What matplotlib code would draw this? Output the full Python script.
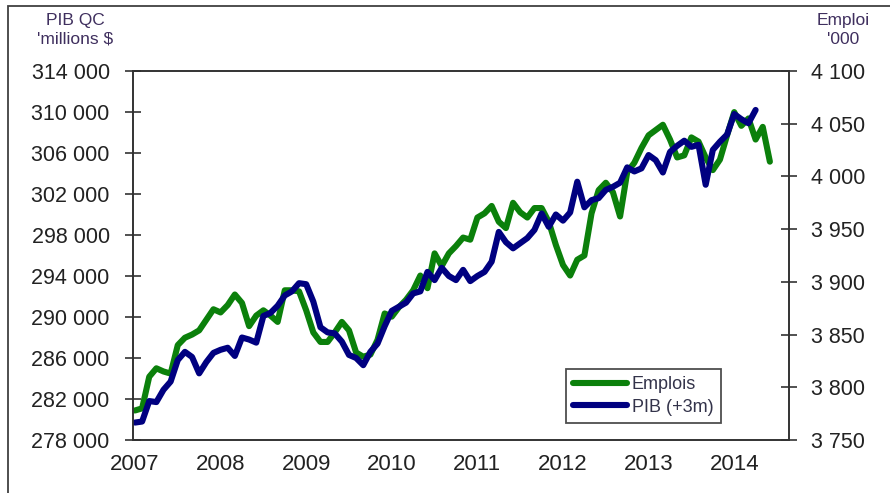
import numpy as np
import matplotlib
matplotlib.use("Agg")
import matplotlib.pyplot as plt
from matplotlib.patches import Rectangle

# ---- data (monthly, Jan 2007 onward) ----
start_year = 2007
emplois = [3778, 3780, 3810, 3818, 3815, 3813, 3840, 3847, 3850, 3854, 3864, 3874,
           3871, 3878, 3888, 3880, 3858, 3868, 3873, 3868, 3862, 3892, 3892, 3891,
           3873, 3852, 3843, 3843, 3852, 3862, 3854, 3833, 3829, 3831, 3845, 3870,
           3867, 3876, 3883, 3892, 3906, 3894, 3927, 3915, 3927, 3934, 3942, 3940,
           3961, 3965, 3972, 3957, 3951, 3975, 3966, 3961, 3970, 3970, 3957, 3935,
           3916, 3906, 3921, 3925, 3965, 3987, 3994, 3985, 3962, 4004, 4013, 4027,
           4039, 4044, 4049, 4035, 4018, 4020, 4037, 4033, 4018, 4006, 4016, 4039,
           4061, 4048, 4055, 4035, 4047, 4014]
pib = [279700, 279800, 281800, 281700, 282900, 283700, 285800, 286600, 286100, 284500, 285600, 286500,
       286800, 287000, 286200, 288000, 287800, 287500, 290100, 290400, 291100, 292100, 292500, 293300,
       293200, 291500, 289000, 288500, 288400, 287600, 286300, 286000, 285300, 286600, 287400, 289100,
       290600, 291000, 291400, 292300, 292500, 294400, 293600, 294800, 294000, 293600, 294600, 293500,
       294000, 294400, 295400, 298300, 297300, 296700, 297200, 297700, 298500, 300100, 298800, 300000,
       299400, 300200, 303200, 300700, 301400, 301600, 302400, 302700, 303100, 304600, 304200, 304500,
       305800, 305300, 304100, 306100, 306700, 307200, 306600, 306800, 302900, 306300, 307100, 307800,
       309800, 309300, 308900, 310200]
years = [2007, 2008, 2009, 2010, 2011, 2012, 2013, 2014]
left_ticks = [278000, 282000, 286000, 290000, 294000, 298000, 302000, 306000, 310000, 314000]
right_ticks = [3750, 3800, 3850, 3900, 3950, 4000, 4050, 4100]

x_emp = start_year + np.arange(len(emplois)) / 12.0
x_pib = start_year + np.arange(len(pib)) / 12.0

W, H = 890, 493
fig = plt.figure(figsize=(W / 100, H / 100), dpi=100)
fig.patch.set_facecolor("white")

FONT = "Liberation Sans"
tick_col = "#222222"
title_col = "#3f2f5e"

ax = fig.add_axes([133 / W, 1 - 440 / H, (789 - 133) / W, (440 - 71) / H])
ax2 = ax.twinx()
ax.set_zorder(ax2.get_zorder() + 1)
ax.patch.set_visible(False)

green = "#0b800b"
navy = "#000080"
l1, = ax2.plot(x_emp, emplois, color=green, lw=4.4, solid_joinstyle="round", solid_capstyle="round", label="Emplois")
l2, = ax.plot(x_pib, pib, color=navy, lw=4.4, solid_joinstyle="round", solid_capstyle="round", label="PIB (+3m)")

ax.set_xlim(2006.977, 2014.64)
ax.set_ylim(278000, 314000)
ax2.set_ylim(3750, 4100)

ax.set_xticks(years)
ax.set_xticklabels([str(y) for y in years], fontsize=16, family=FONT, color=tick_col)
ax.set_yticks(left_ticks)
ax.set_yticklabels([f"{v:,}".replace(",", " ") for v in left_ticks], fontsize=15.5, family=FONT, color=tick_col)
ax2.set_yticks(right_ticks)
ax2.set_yticklabels([f"{v:,}".replace(",", " ") for v in right_ticks], fontsize=15.5, family=FONT, color=tick_col)

ax.tick_params(axis="x", length=0, pad=10)
ax.tick_params(axis="y", direction="inout", length=11.5, width=1.1, color="#222222", pad=11)
ax2.tick_params(axis="y", direction="inout", length=11.5, width=1.1, color="#222222", pad=10)

for a in (ax, ax2):
    for s in a.spines.values():
        s.set_linewidth(1.2)
        s.set_color("#333333")

# axis titles
fig.text(75 / W, 1 - 21 / H, "PIB QC", ha="center", va="center", fontsize=12.5, family=FONT, color=title_col)
fig.text(75 / W, 1 - 39 / H, "'millions $", ha="center", va="center", fontsize=12.5, family=FONT, color=title_col)
fig.text(843 / W, 1 - 20 / H, "Emploi", ha="center", va="center", fontsize=12.5, family=FONT, color=title_col)
fig.text(843 / W, 1 - 39 / H, "'000", ha="center", va="center", fontsize=12.5, family=FONT, color=title_col)

leg = ax.legend(handles=[l1, l2], loc="lower left",
                bbox_to_anchor=((566 - 133) / 656, (440 - 423) / 369),
                borderaxespad=0, frameon=True, fancybox=False, shadow=False,
                handlelength=3.0, handletextpad=0.25, borderpad=0.4, labelspacing=0.3,
                prop={"family": FONT, "size": 13})
leg.get_frame().set_edgecolor("#222222")
leg.get_frame().set_linewidth(1.3)
for t in leg.get_texts():
    t.set_color("#33334a")

# outer frame
fig.patches.append(Rectangle((8 / W, -0.2), 1.5, 1.2 - 6 / H, transform=fig.transFigure,
                             fill=False, edgecolor="#404040", linewidth=1.3, clip_on=False))

fig.savefig("out.png", dpi=100)
